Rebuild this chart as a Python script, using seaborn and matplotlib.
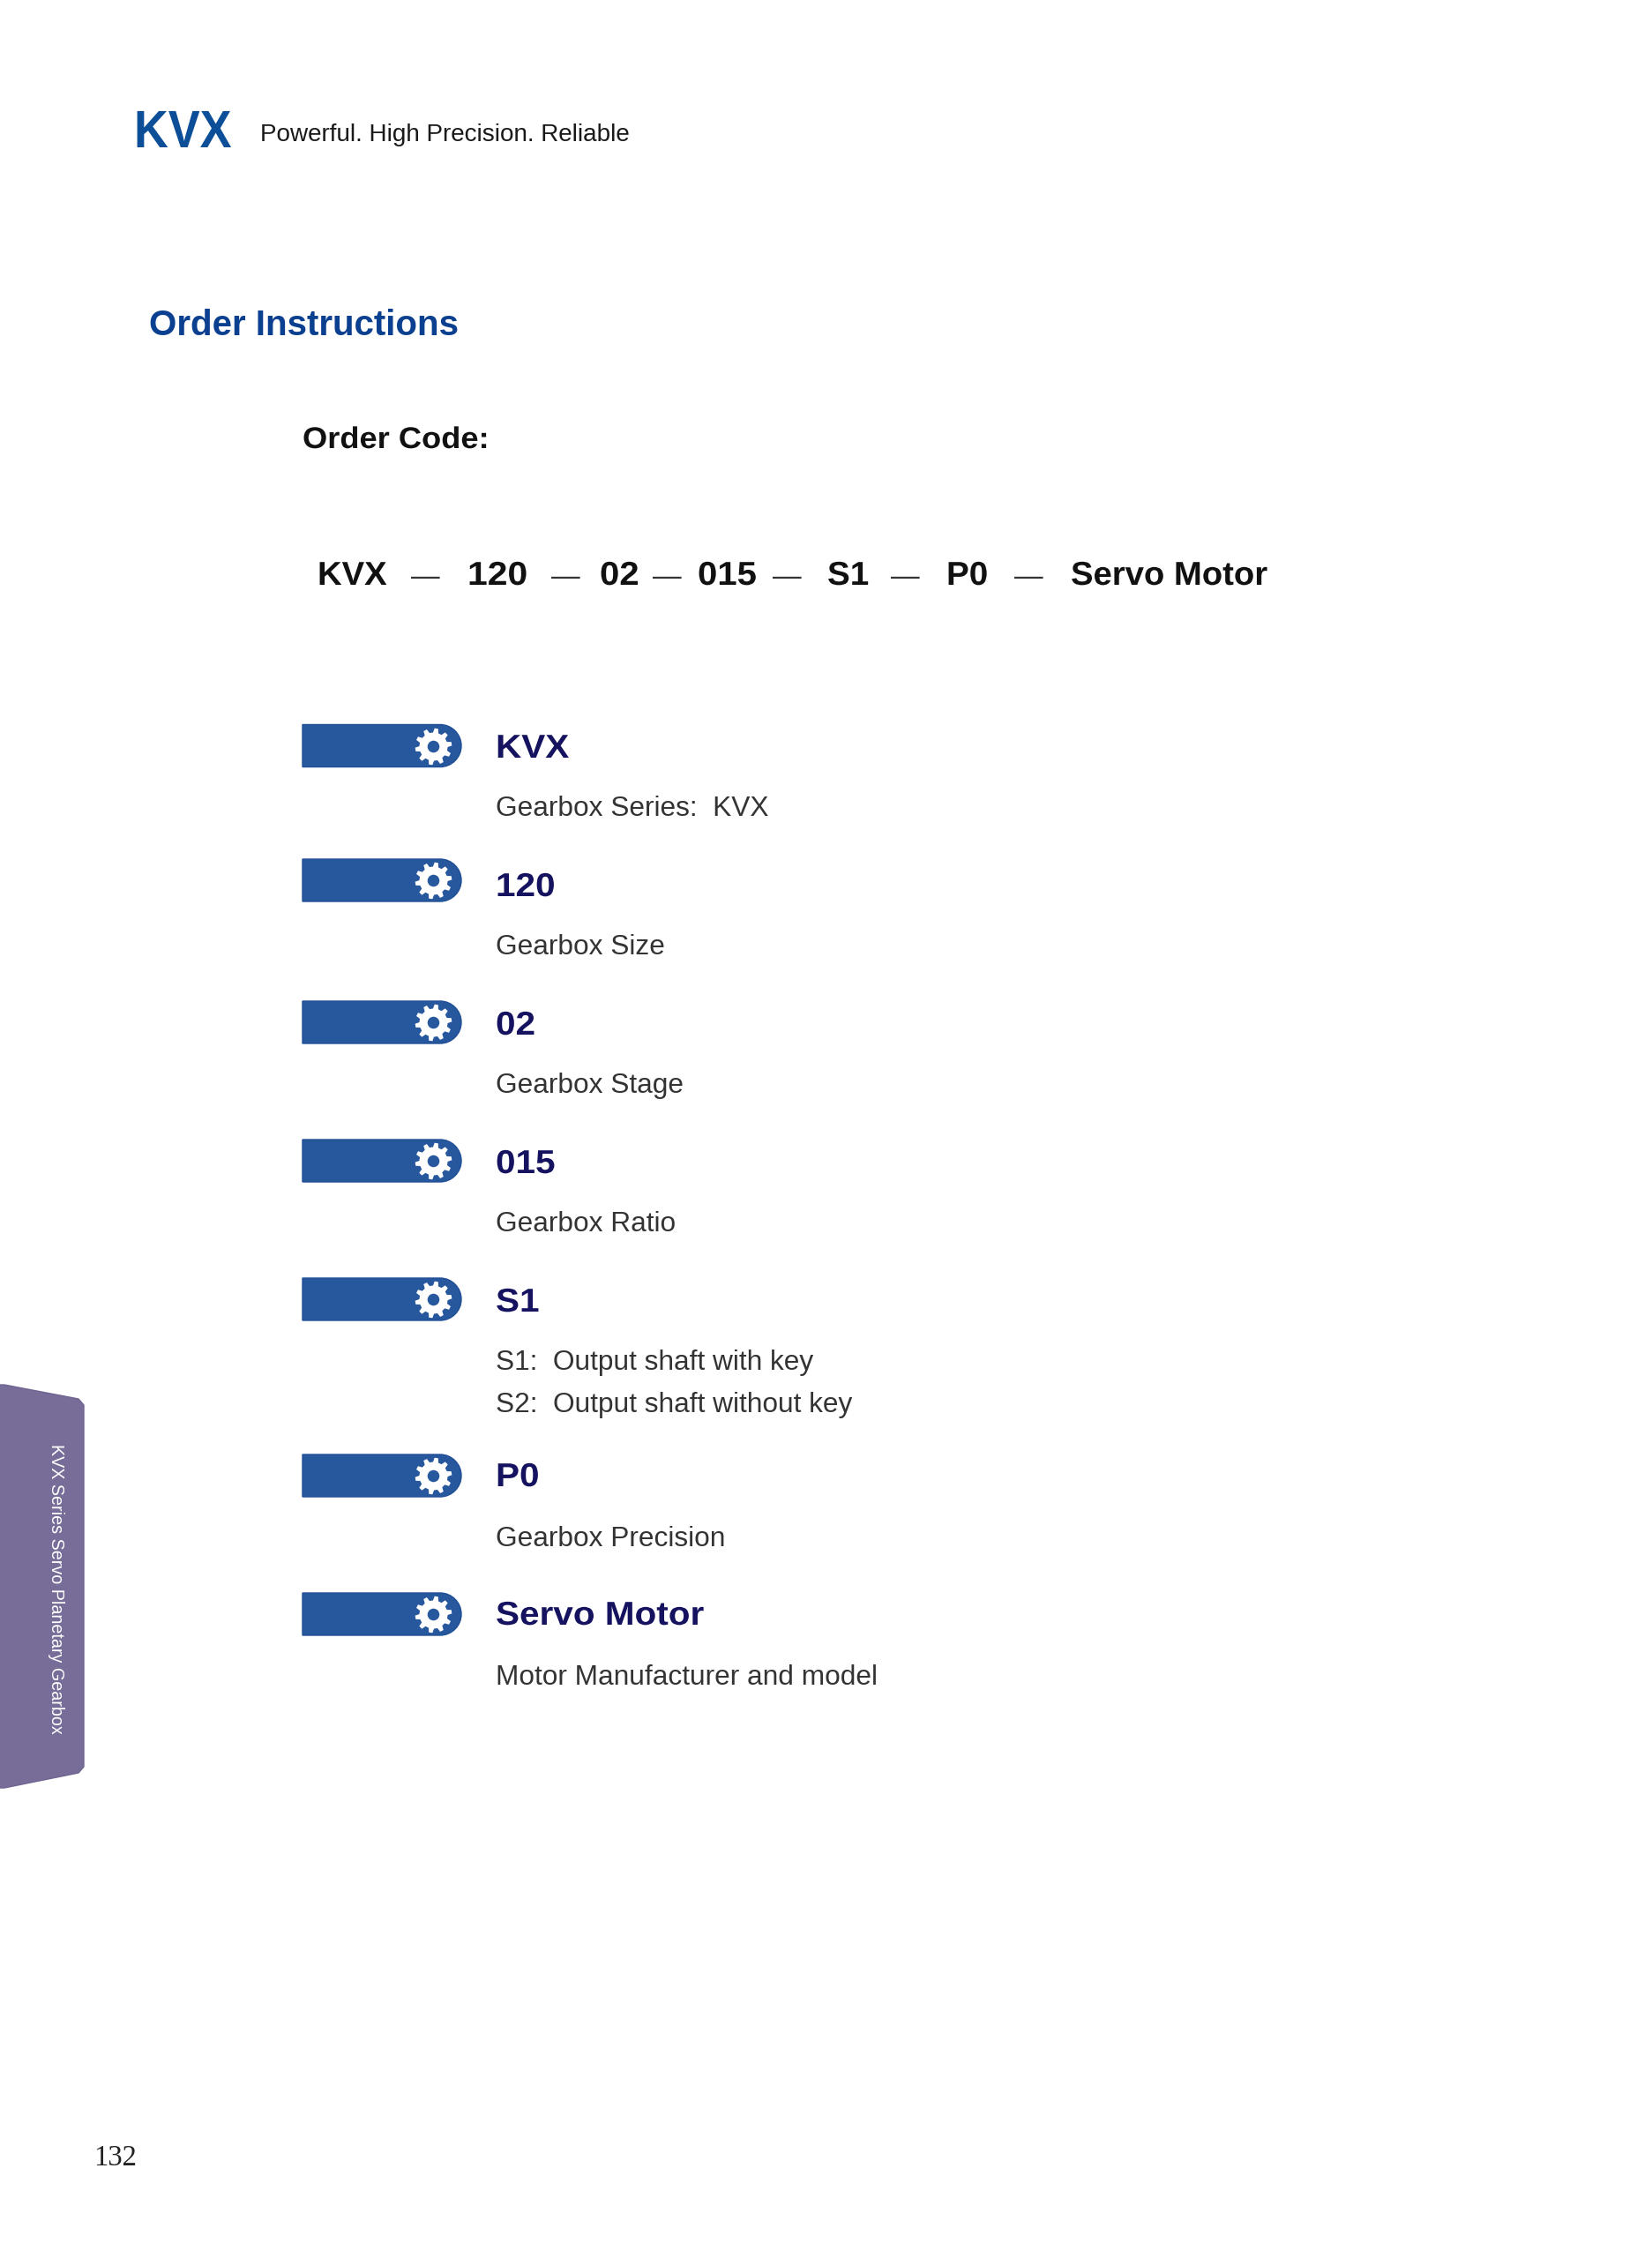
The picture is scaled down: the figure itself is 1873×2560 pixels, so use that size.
import numpy as np
import seaborn as sns
import matplotlib
matplotlib.use("Agg")
from matplotlib import pyplot as plt
from matplotlib.path import Path
from matplotlib.patches import PathPatch
from matplotlib.patheffects import AbstractPathEffect
from matplotlib.transforms import Affine2D

# page content
code_parts = ["KVX", "120", "02", "015", "S1", "P0", "Servo Motor"]
item_titles = ["KVX", "120", "02", "015", "S1", "P0", "Servo Motor"]
item_texts = [
    ["Gearbox Series:  KVX"],
    ["Gearbox Size"],
    ["Gearbox Stage"],
    ["Gearbox Ratio"],
    ["S1:  Output shaft with key", "S2:  Output shaft without key"],
    ["Gearbox Precision"],
    ["Motor Manufacturer and model"],
]

# layout, in page pixels
W, H = 1874, 2560
code_x = [360, 530, 680, 791, 938, 1073, 1214]
code_stretch = [1.02, 1.09, 1.07, 1.07, 1.03, 1.03, 1.02]
dash_x = [466, 625, 740, 876, 1010, 1150]
bar_mid = [845.5, 998, 1159, 1316, 1473, 1673, 1830]
title_base = [859, 1016, 1173, 1330, 1487, 1685, 1842]
text_base = [925, 1082, 1239, 1396, 1553, 1753, 1910]

BAR = "#27579c"
NAVY = "#15125f"
BLUE = "#0b3f8f"
SANS = ["Liberation Sans", "DejaVu Sans"]

sns.set_theme(style="white")
plt.rcParams["font.family"] = SANS

fig = plt.figure(figsize=(W / 100, H / 100), dpi=100, facecolor="white")
ax = fig.add_axes([0, 0, 1, 1])


class StretchX(AbstractPathEffect):
    # widens or narrows a text about its left edge, no tracking in matplotlib
    def __init__(self, sx, x0):
        super().__init__()
        self.sx = sx
        self.x0 = x0

    def draw_path(self, renderer, gc, tpath, affine, rgbFace=None):
        a = affine + Affine2D().translate(-self.x0, 0).scale(self.sx, 1).translate(self.x0, 0)
        renderer.draw_path(gc, tpath, a, rgbFace)


def gear_path(teeth=10, r_out=1.0, r_in=0.77):
    pts = []
    step = 2 * np.pi / teeth
    for i in range(teeth):
        a = i * step + step / 4
        for da, r in [(-0.30, r_in), (-0.16, r_out), (0.16, r_out), (0.30, r_in)]:
            pts.append((r * np.cos(a + da * step), r * np.sin(a + da * step)))
    pts.append(pts[0])
    codes = [Path.MOVETO] + [Path.LINETO] * (len(pts) - 2) + [Path.CLOSEPOLY]
    return Path(pts, codes)


def pill(y, x0=343, x1=523, h=48):
    t, b = y - h / 2, y + h / 2
    r = h / 2
    k = 0.5523 * r
    verts = [(x0, t), (x1 - r, t), (x1 - r + k, t), (x1, y - k), (x1, y),
             (x1, y + k), (x1 - r + k, b), (x1 - r, b), (x0, b), (x0, t)]
    codes = [Path.MOVETO, Path.LINETO, Path.CURVE4, Path.CURVE4, Path.CURVE4,
             Path.CURVE4, Path.CURVE4, Path.CURVE4, Path.LINETO, Path.CLOSEPOLY]
    return PathPatch(Path(verts, codes), fc=BAR, ec="#1f4f96", lw=1)


for y in bar_mid:
    ax.add_patch(pill(y))

# gears on the bars
gear_xs = [491] * len(bar_mid)
sns.scatterplot(x=gear_xs, y=bar_mid, marker=gear_path(), s=900, color="white",
                linewidth=0, ax=ax, legend=False, zorder=3)
sns.scatterplot(x=gear_xs, y=bar_mid, marker="o", s=95, color=BAR,
                linewidth=0, ax=ax, legend=False, zorder=4)

# side tab
tab = [(-3, 1570), (5, 1570), (89, 1586), (95, 1593), (95, 2003), (89, 2010), (5, 2027), (-3, 2027), (-3, 1570)]
ax.add_patch(plt.Polygon(tab, closed=True, fc="#786d98", ec="#6f6490", lw=1, joinstyle="round"))
ax.text(63, 1801, "KVX Series Servo Planetary Gearbox", rotation=270, color="white",
        fontsize=14.2, ha="center", va="center")

# header
ax.text(152, 167, "KVX", color="#0c4e97", fontsize=43, fontweight="bold", va="baseline",
        path_effects=[StretchX(0.9, 152)])
ax.text(295, 160, "Powerful. High Precision. Reliable", color="#1a1a1a", fontsize=20.1, va="baseline")
ax.text(169, 380, "Order Instructions", color=BLUE, fontsize=29, fontweight="bold", va="baseline")
ax.text(343, 508, "Order Code:", color="#111111", fontsize=24.5, fontweight="bold", va="baseline",
        path_effects=[StretchX(1.066, 343)])

# order code row
for x, s, sx in zip(code_x, code_parts, code_stretch):
    ax.text(x, 663, s, color="#111111", fontsize=27, fontweight="bold", va="baseline",
            path_effects=[StretchX(sx, x)])
for x in dash_x:
    ax.text(x, 663, "\u2014", color="#333333", fontsize=23.5, va="baseline")

# item list
for t, tb, lines, b in zip(item_titles, title_base, item_texts, text_base):
    ax.text(562, tb, t, color=NAVY, fontsize=27, fontweight="bold", va="baseline",
            path_effects=[StretchX(1.08, 562)])
    for i, line in enumerate(lines):
        ax.text(562, b + i * 47.5, line, color="#333333", fontsize=22.8, va="baseline")

ax.text(106, 2455, "132", color="#222222", fontsize=23.5, family="Liberation Serif", va="baseline")

ax.set_xlim(0, W)
ax.set_ylim(H, 0)
ax.axis("off")

fig.savefig("out.png", dpi=100, facecolor="white")
